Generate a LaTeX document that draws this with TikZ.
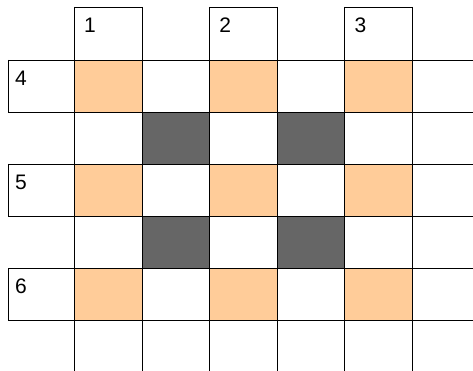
\documentclass[tikz,border=0pt]{standalone}
\usepackage{fontspec}
\setmainfont{Liberation Sans}

\tikzset{
  gridline/.style={line width=0.9pt, black},
  peach/.style={fill={rgb,255:red,255;green,204;blue,153}},
  darkcell/.style={fill={rgb,255:red,102;green,102;blue,102}},
  numlabel/.style={anchor=north west, inner sep=0pt, font=\fontsize{21}{25}\selectfont}
}

\begin{document}
\begin{tikzpicture}[x=1pt, y=-1pt]
  \useasboundingbox (0,0) rectangle (473,371);

  % column width and row height
  \def\cw{67.6} \def\rh{52}
  \def\xo{74.4} \def\yo{60}

  %% Cell fills
  % peach cells
  \foreach \i in {0,2,4}
    \foreach \j in {0,2,4}
      \fill[peach] ({\xo+\i*\cw},{\yo+\j*\rh}) rectangle +(\cw,\rh);
  % dark cells
  \foreach \i in {1,3}
    \foreach \j in {1,3}
      \fill[darkcell] ({\xo+\i*\cw},{\yo+\j*\rh}) rectangle +(\cw,\rh);

  %% Grid lines
  % horizontal lines
  \foreach \j in {0,...,5}
    \draw[gridline] (8,{\yo+\j*\rh}) -- (473,{\yo+\j*\rh});
  % vertical lines
  \foreach \i in {0,...,5}
    \draw[gridline] ({\xo+\i*\cw},7) -- ({\xo+\i*\cw},371);
  % top edges of header boxes
  \foreach \i in {0,2,4}
    \draw[gridline] ({\xo+\i*\cw},7) -- ({\xo+(\i+1)*\cw},7);
  % left edges of side boxes
  \foreach \j in {0,2,4}
    \draw[gridline] (8,{\yo+\j*\rh}) -- (8,{\yo+(\j+1)*\rh});

  %% Labels
  \node[numlabel] (top1) at ({\xo+9.6},18) {1};
  \node[numlabel] (top2) at ({\xo+2*\cw+9.6},18) {2};
  \node[numlabel] (top3) at ({\xo+4*\cw+9.6},18) {3};
  \node[numlabel] (side4) at (15,{\yo+11}) {4};
  \node[numlabel] (side5) at (15,{\yo+2*\rh+11}) {5};
  \node[numlabel] (side6) at (15,{\yo+4*\rh+11}) {6};
\end{tikzpicture}
\end{document}
